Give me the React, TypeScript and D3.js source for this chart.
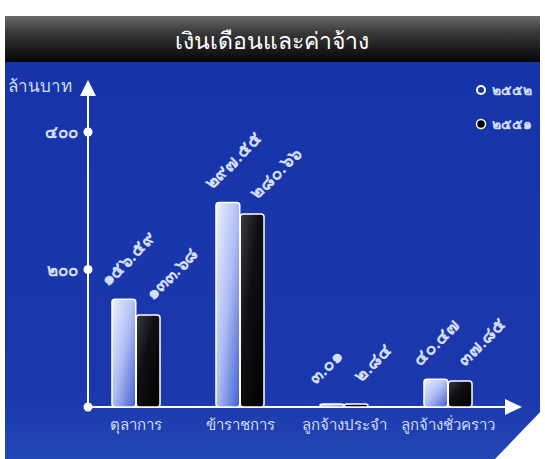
import { useEffect } from "react";
import * as d3 from "d3";

const title = "เงินเดือนและค่าจ้าง";
const unitLabel = "ล้านบาท";
const categories = ["ตุลาการ", "ข้าราชการ", "ลูกจ้างประจำ", "ลูกจ้างชั่วคราว"];
const years = ["๒๕๕๒", "๒๕๕๑"];
const values2552 = [156.59, 297.55, 3.01, 40.47];
const values2551 = [133.68, 280.66, 2.84, 37.85];
const labels2552 = ["๑๕๖.๕๙", "๒๙๗.๕๕", "๓.๐๑", "๔๐.๔๗"];
const labels2551 = ["๑๓๓.๖๘", "๒๘๐.๖๖", "๒.๘๔", "๓๗.๘๕"];
const yTicks = [200, 400];
const yTickLabels = ["๒๐๐", "๔๐๐"];

const W = 545;
const H = 459;
const font = "'Noto Sans', 'DejaVu Sans', sans-serif";
const textColor = "#d4deff";

export default function App() {
  useEffect(() => {
    document.body.style.margin = "0";
  }, []);

  const x = d3.scaleBand<string>().domain(categories).range([84, 500]).padding(0);
  const inner = d3.scaleBand<string>().domain(years).range([0, 49]).padding(0.02);
  const pairOffset = (x.bandwidth() - 49) / 2;
  const y = d3.scaleLinear().domain([0, 400]).range([407, 132]);
  const x0 = 88;
  const y0 = y(0);

  const series = [
    { year: years[0], values: values2552, labels: labels2552, fill: "url(#gLight)", dx: -4, dy: -12 },
    { year: years[1], values: values2551, labels: labels2551, fill: "url(#gDark)", dx: 17, dy: -14 },
  ];

  return (
    <svg width={W} height={H} style={{ position: "absolute", left: 0, top: 0, display: "block" }} fontFamily={font}>
      <defs>
        <linearGradient id="gPanel" x1="0" y1="0" x2="0" y2="1">
          <stop offset="0" stopColor="#1634a8" />
          <stop offset="0.85" stopColor="#1a38ac" />
          <stop offset="1" stopColor="#2446b4" />
        </linearGradient>
        <linearGradient id="gHeader" x1="0" y1="0" x2="0" y2="1">
          <stop offset="0" stopColor="#6a6a6a" />
          <stop offset="0.35" stopColor="#3a3a3a" />
          <stop offset="1" stopColor="#050505" />
        </linearGradient>
        <linearGradient id="gLight" x1="0" y1="0" x2="1" y2="1">
          <stop offset="0" stopColor="#eef1ff" />
          <stop offset="0.5" stopColor="#aebcf4" />
          <stop offset="1" stopColor="#3f5fd0" />
        </linearGradient>
        <linearGradient id="gDark" x1="0" y1="0" x2="1" y2="1">
          <stop offset="0" stopColor="#3a3a44" />
          <stop offset="0.4" stopColor="#101014" />
          <stop offset="1" stopColor="#000000" />
        </linearGradient>
      </defs>

      <rect x={0} y={0} width={W} height={H} fill="#ffffff" />
      <rect x={5} y={16} width={535} height={H - 16} fill="url(#gPanel)" />
      <rect x={5} y={16} width={535} height={46} fill="url(#gHeader)" />
      <text x={272} y={49} textAnchor="middle" fill="#ffffff" fontSize={23}>{title}</text>

      {/* axes */}
      <line x1={x0} x2={x0} y1={y0} y2={92} stroke="#ffffff" strokeWidth={2} />
      <path d={`M${x0 - 8},${96} L${x0},${80} L${x0 + 8},${96} Z`} fill="#ffffff" />
      <line x1={x0} x2={508} y1={y0} y2={y0} stroke="#ffffff" strokeWidth={2} />
      <path d={`M${505},${y0 - 8} L${522},${y0} L${505},${y0 + 8} Z`} fill="#ffffff" />
      <circle cx={x0} cy={y0} r={4.5} fill="#ffffff" />
      <text x={8} y={92} fill={textColor} fontSize={17}>{unitLabel}</text>
      {yTicks.map((t, i) => (
        <g key={t}>
          <circle cx={x0} cy={y(t)} r={4.5} fill="#ffffff" />
          <text x={x0 - 10} y={y(t) + 6} textAnchor="end" fill={textColor} fontSize={17} fontWeight={600}>{yTickLabels[i]}</text>
        </g>
      ))}

      {/* bars */}
      {series.map((s) =>
        categories.map((c, i) => {
          const bx = (x(c) ?? 0) + pairOffset + (inner(s.year) ?? 0);
          const bw = inner.bandwidth();
          const top = y(s.values[i]);
          const h = Math.max(y0 - top, 3);
          return (
            <g key={s.year + c}>
              <rect x={bx} y={y0 - h} width={bw} height={h} rx={3} fill={s.fill} stroke="#ffffff" strokeWidth={1.5} />
              <text
                transform={`translate(${bx + s.dx},${Math.min(top, y0 - 10) + s.dy}) rotate(-45)`}
                fill={textColor}
                fontSize={18}
                fontWeight={600}
              >
                {s.labels[i]}
              </text>
            </g>
          );
        })
      )}

      {categories.map((c) => (
        <text key={c} x={(x(c) ?? 0) + x.bandwidth() / 2} y={430} textAnchor="middle" fill={textColor} fontSize={15}>
          {c}
        </text>
      ))}

      {/* legend */}
      <circle cx={481} cy={90} r={4} fill="none" stroke="#ffffff" strokeWidth={2} />
      <text x={492} y={95} fill={textColor} fontSize={14} fontWeight={600}>{years[0]}</text>
      <circle cx={481} cy={124} r={4.5} fill="#000000" stroke="#ffffff" strokeWidth={1.5} />
      <text x={492} y={129} fill={textColor} fontSize={14} fontWeight={600}>{years[1]}</text>

      {/* page corner */}
      <path d={`M495,${H} L${W},407 L${W},${H} Z`} fill="#ffffff" />
    </svg>
  );
}
